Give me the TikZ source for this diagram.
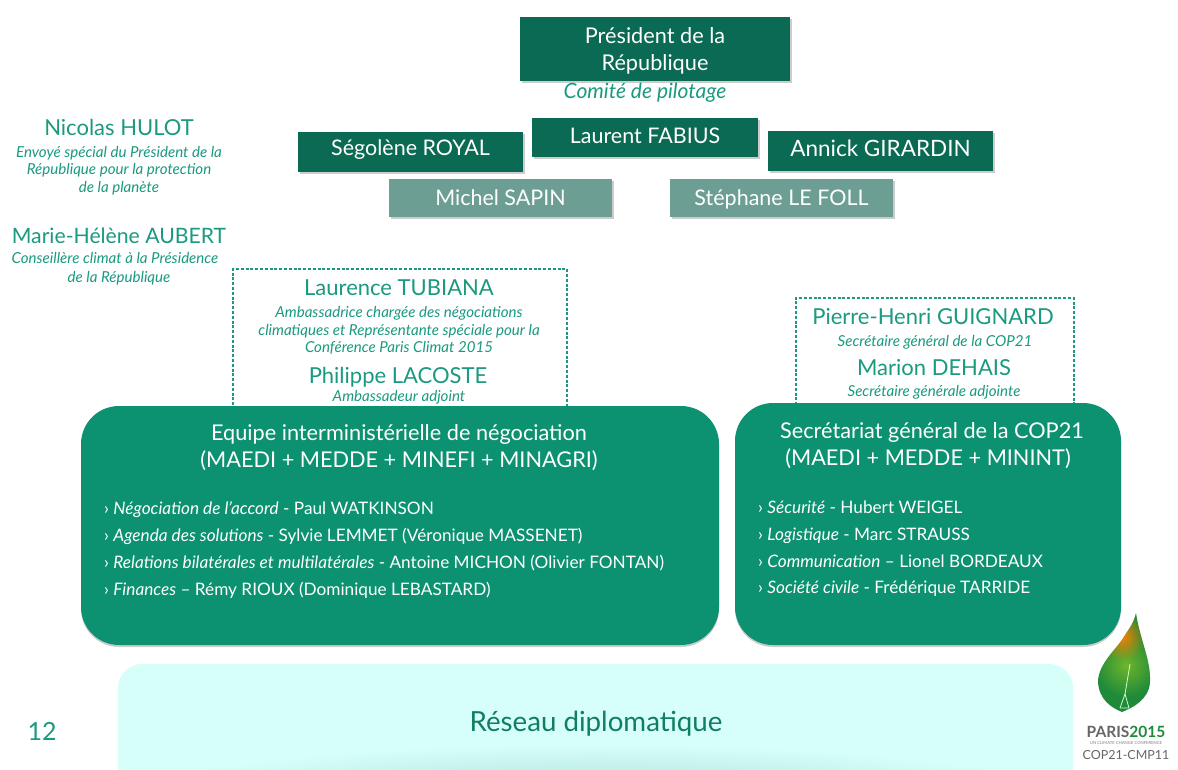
\documentclass[tikz,border=0pt]{standalone}
\usepackage{fontspec}
\setmainfont{Lato}
\usetikzlibrary{shadows,fadings}
\tikzfading[name=softdisc,inner color=transparent!0,outer color=transparent!100]
\definecolor{darkg}{HTML}{0A6A53}
\definecolor{greyg}{HTML}{6C9E93}
\definecolor{midg}{HTML}{0C9270}
\definecolor{tealt}{HTML}{1A9A80}
\definecolor{pale}{HTML}{D6FFFA}
\definecolor{leafd}{HTML}{1F8A3A}
\definecolor{leafl}{HTML}{6FB52C}
\tikzset{
  x=1pt,y=-1pt,
  chief/.style={fill=darkg,inner sep=0pt,drop shadow={shadow xshift=1.5pt,shadow yshift=-2pt,opacity=.2,fill=black}},
  minister/.style={fill=#1,text=white,inner sep=0pt,align=center,text height=15pt,text depth=4pt,font=\fontsize{21.5}{24}\selectfont,drop shadow={shadow xshift=1.5pt,shadow yshift=-2pt,opacity=.2,fill=black}},
  bigbox/.style={fill=midg,rounded corners=38pt,drop shadow={shadow xshift=0pt,shadow yshift=-2pt,opacity=.2,fill=black}},
  dashbox/.style={draw=tealt,line width=1.2pt,dash pattern=on 3pt off 1.8pt},
  pname/.style={text=tealt,inner sep=0pt,anchor=base,font=\fontsize{22}{24}\selectfont},
  prole/.style={text=tealt,inner sep=0pt,anchor=base,font=\fontsize{15.1}{17}\selectfont\itshape},
  bighead/.style={text=white,inner sep=0pt,anchor=base,font=\fontsize{21.7}{24}\selectfont},
  listitem/.style={text=white,inner sep=0pt,anchor=base west,font=\fontsize{17.2}{20}\selectfont},
}
\begin{document}
\begin{tikzpicture}
\useasboundingbox (0,0) rectangle (1178,769);
\fill[white] (0,0) rectangle (1178,769);
% top boxes
\node[chief,minimum width=270pt,minimum height=64pt] (pres) at (655,49) {};
\node[text=white,inner sep=0pt,align=center,font=\fontsize{21.7}{27}\selectfont] (prestext) at (655,51) {Président de la\\République};
\node[text=tealt,inner sep=0pt,anchor=base,font=\fontsize{21}{24}\selectfont\itshape] (comite) at (645,98) {Comité de pilotage};
\node[minister=darkg,minimum width=225pt,minimum height=40pt,text height=12pt,text depth=5pt] (royal) at (410.5,152) {Ségolène ROYAL};
\node[minister=darkg,minimum width=226pt,minimum height=39pt] (fabius) at (645,137.5) {Laurent FABIUS};
\node[minister=darkg,minimum width=225pt,minimum height=40pt] (girardin) at (880.5,151) {\fontsize{22.5}{24}\selectfont Annick GIRARDIN};
\node[minister=greyg,minimum width=223pt,minimum height=38pt,text height=17pt,text depth=3pt] (sapin) at (500.5,198) {Michel SAPIN};
\node[minister=greyg,minimum width=223pt,minimum height=38pt,text height=17pt,text depth=3pt] (lefoll) at (781.5,198) {Stéphane LE FOLL};
% left texts
\node[pname] (hulot) at (119,135) {Nicolas HULOT};
\node[prole] (hulota) at (119,157) {Envoyé spécial du Président de la};
\node[prole] (hulotb) at (119,174) {République pour la protection};
\node[prole] (hulotc) at (119,192) {de la planète};
\node[pname,font=\fontsize{21.2}{24}\selectfont] (aubert) at (119,243) {Marie-Hélène AUBERT};
\node[prole] (auberta) at (115,263) {Conseillère climat à la Présidence};
\node[prole] (aubertb) at (119,282) {de la République};
% dashed boxes
\draw[dashbox] (233,410) |- (567,269) -- (567,410);
\draw[dashbox] (796,410) |- (1074,298) -- (1074,410);
\node[pname] (tubiana) at (399,295) {Laurence TUBIANA};
\node[prole] (tuba) at (399,317) {Ambassadrice chargée des négociations};
\node[prole] (tubb) at (399,335) {climatiques et Représentante spéciale pour la};
\node[prole] (tubc) at (399,352) {Conférence Paris Climat 2015};
\node[pname] (lacoste) at (398,383) {Philippe LACOSTE};
\node[prole] (lacostea) at (399,401) {Ambassadeur adjoint};
\node[pname] (guignard) at (933,324) {Pierre-Henri GUIGNARD};
\node[prole] (guia) at (935,346) {Secrétaire général de la COP21};
\node[pname] (dehais) at (934,375) {Marion DEHAIS};
\node[prole] (dehaisa) at (934,396) {Secrétaire générale adjointe};
% large boxes
\fill[bigbox] (81,406) rectangle (719,645);
\fill[bigbox] (735,403) rectangle (1121,645);
\node[bighead] (eq1) at (399,440) {Equipe interministérielle de négociation};
\node[bighead] (eq2) at (399,467) {(MAEDI + MEDDE + MINEFI + MINAGRI)};
\node[listitem] (l1) at (104,514) {› \textit{Négociation de l’accord} - Paul WATKINSON};
\node[listitem] (l2) at (104,541) {› \textit{Agenda des solutions} - Sylvie LEMMET (Véronique MASSENET)};
\node[listitem] (l3) at (104,568) {› \textit{Relations bilatérales et multilatérales} - Antoine MICHON (Olivier FONTAN)};
\node[listitem] (l4) at (104,595) {› \textit{Finances} – Rémy RIOUX (Dominique LEBASTARD)};
\node[bighead] (se1) at (932,438) {Secrétariat général de la COP21};
\node[bighead] (se2) at (928,465) {(MAEDI + MEDDE + MININT)};
\node[listitem] (r1) at (758,513) {› \textit{Sécurité} - Hubert WEIGEL};
\node[listitem] (r2) at (758,540) {› \textit{Logistique} - Marc STRAUSS};
\node[listitem] (r3) at (758,567) {› \textit{Communication} – Lionel BORDEAUX};
\node[listitem] (r4) at (758,593) {› \textit{Société civile} - Frédérique TARRIDE};
% bottom band
\begin{scope}
\clip (0,0) rectangle (1178,769);
\fill[pale,rounded corners=24pt] (118,664) rectangle (1073,800);
\fill[darkg!18!pale,path fading=softdisc] (596,790) ellipse [x radius=430,y radius=45];
\end{scope}
\node[text=darkg!60!tealt,inner sep=0pt,anchor=base,font=\fontsize{27.7}{30}\selectfont] (reseau) at (596,731) {Réseau diplomatique};
\node[text=tealt,inner sep=0pt,anchor=base,font=\fontsize{25}{28}\selectfont] (page) at (42,740) {12};
% logo
\begin{scope}
\clip (1136,613) .. controls (1140,640) and (1151,660) .. (1150,682) .. controls (1149,700) and (1132,708) .. (1122,712) .. controls (1112,708) and (1099,700) .. (1098,682) .. controls (1098,665) and (1115,650) .. (1122,640) .. controls (1128,630) and (1133,625) .. (1136,613) -- cycle;
\fill[leafd] (1090,610) rectangle (1160,715);
\fill[leafl,path fading=softdisc] (1126,665) circle (32);
\fill[orange,path fading=softdisc] (1122,636) circle (24);
\end{scope}
\draw[white!80!green,line width=.8pt] (1130,664) -- (1125,694) -- (1120,708);
\draw[white!80!green,line width=.8pt] (1125,694) -- (1129,708) -- (1120,708);
\node[inner sep=0pt,anchor=base,font=\fontsize{15.5}{17}\selectfont\bfseries,text=black!60] (parislogo) at (1126,737) {PARIS\textcolor{leafd}{2015}};
\node[inner sep=0pt,anchor=base,font=\fontsize{4.2}{5}\selectfont,text=black!50] (unlogo) at (1126,744) {UN CLIMATE CHANGE CONFERENCE};
\node[inner sep=0pt,anchor=base,font=\fontsize{12.5}{15}\selectfont,text=black!60] (coplogo) at (1126,759) {COP21-CMP11};
\end{tikzpicture}
\end{document}
